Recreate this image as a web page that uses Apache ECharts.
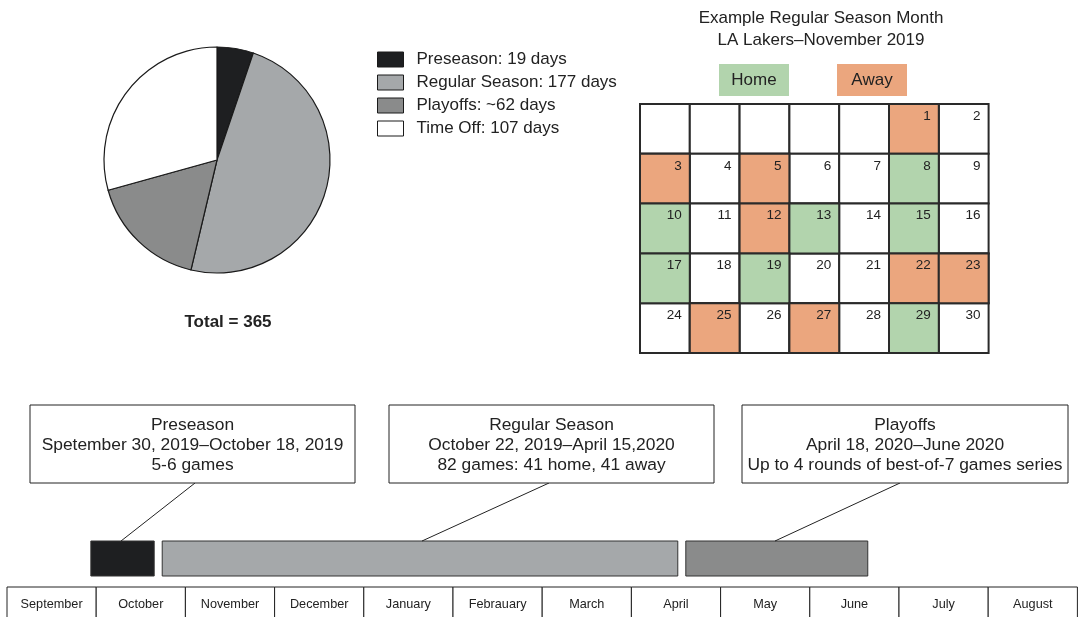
<!DOCTYPE html>
<html>
<head>
<meta charset="utf-8">
<script src="https://cdn.jsdelivr.net/npm/echarts@6/dist/echarts.min.js"></script>
<style>
  html, body { margin: 0; padding: 0; background: #fff; }
  #chart { width: 1080px; height: 617px; }
</style>
</head>
<body>
<div id="chart"></div>
<script>
// ---- Season breakdown (days) ----
const phaseNames = ['Preseason', 'Regular Season', 'Playoffs', 'Time Off'];
const phaseDays = [19, 177, 62, 107];
const phaseDayPrefix = ['', '', '~', ''];
const phaseColors = ['#1e1f21', '#a5a8aa', '#8a8b8b', '#ffffff'];

// ---- November 2019 Lakers schedule ----
const calendarRange = ['2019-10-27', '2019-11-30'];
const monthDays = 30;
const homeDays = [8, 10, 13, 15, 17, 19, 29];
const awayDays = [1, 3, 5, 12, 22, 23, 25, 27];

// ---- Season timeline (position in months from Sep 1) ----
const months = ['September', 'October', 'November', 'December', 'January', 'Febrauary',
  'March', 'April', 'May', 'June', 'July', 'August'];
const timelineStart = [0.94, 1.74, 7.61];
const timelineEnd = [1.65, 7.52, 9.65];
const calloutLines = [
  ['Preseason', 'Spetember 30, 2019\u2013October 18, 2019', '5-6 games'],
  ['Regular Season', 'October 22, 2019\u2013April 15,2020', '82 games: 41 home, 41 away'],
  ['Playoffs', 'April 18, 2020\u2013June 2020', 'Up to 4 rounds of best-of-7 games series']
];

const FONT = '"Liberation Sans", Arial, Helvetica, sans-serif';
const INK = '#222';
const HOME_COLOR = '#b2d4ad';
const AWAY_COLOR = '#eba67e';

// callout box placement (pixels) and leader anchors
const calloutBoxes = [
  { x: 30, y: 405, w: 325, h: 78, anchor: 195, barAnchor: 121 },
  { x: 389, y: 405, w: 325, h: 78, anchor: 549, barAnchor: 422 },
  { x: 742, y: 405, w: 326, h: 78, anchor: 900, barAnchor: 775 }
];

const pieData = phaseNames.map((n, i) => ({
  name: n, value: phaseDays[i], itemStyle: { color: phaseColors[i] }
}));
const totalDays = phaseDays.reduce((a, b) => a + b, 0);

// calendar cells
const calData = [];
for (let d = 1; d <= monthDays; d++) {
  const status = homeDays.includes(d) ? 'home' : (awayDays.includes(d) ? 'away' : '');
  calData.push(['2019-11-' + String(d).padStart(2, '0'), d, status]);
}

const CELL = 49.8;

const chart = echarts.init(document.getElementById('chart'), null, { renderer: 'canvas' });

chart.setOption({
  animation: false,
  textStyle: { fontFamily: FONT, color: INK },
  title: {
    text: 'Example Regular Season Month\nLA Lakers\u2013November 2019',
    left: 821, top: 7, textAlign: 'center', padding: 0,
    textStyle: { fontFamily: FONT, fontSize: 17, fontWeight: 'normal', color: INK, lineHeight: 22 }
  },
  legend: {
    orient: 'vertical', left: 377, top: 51, padding: 0, itemWidth: 26, itemHeight: 15, itemGap: 6,
    selectedMode: false, icon: 'rect',
    itemStyle: { borderColor: '#1a1a1a', borderWidth: 1 },
    textStyle: { fontFamily: FONT, fontSize: 17, color: INK, padding: [0, 0, 0, 8] },
    formatter: name => {
      const i = phaseNames.indexOf(name);
      return name + ': ' + phaseDayPrefix[i] + phaseDays[i] + ' days';
    },
    data: phaseNames
  },
  calendar: {
    orient: 'vertical', range: calendarRange, left: 640, top: 104,
    cellSize: [CELL, CELL],
    dayLabel: { show: false, firstDay: 0 }, monthLabel: { show: false }, yearLabel: { show: false },
    splitLine: { show: false },
    itemStyle: { color: '#fff', borderColor: '#2a2a2a', borderWidth: 2 }
  },
  grid: { left: 7, top: 400, width: 12 * 89.2, height: 217, show: false },
  xAxis: { type: 'value', min: 0, max: 12, show: false },
  yAxis: { type: 'value', min: 0, max: 1, show: false },
  graphic: [
    { type: 'text', x: 228, y: 322, style: { text: 'Total = ' + totalDays, font: 'bold 17px ' + FONT, fill: INK, align: 'center', verticalAlign: 'middle' } },
    { type: 'rect', shape: { x: 719, y: 64, width: 70, height: 32 }, style: { fill: HOME_COLOR } },
    { type: 'text', x: 754, y: 80, style: { text: 'Home', font: '17px ' + FONT, fill: INK, align: 'center', verticalAlign: 'middle' } },
    { type: 'rect', shape: { x: 837, y: 64, width: 70, height: 32 }, style: { fill: AWAY_COLOR } },
    { type: 'text', x: 872, y: 80, style: { text: 'Away', font: '17px ' + FONT, fill: INK, align: 'center', verticalAlign: 'middle' } }
  ],
  series: [
    {
      type: 'pie', center: [217, 160], radius: 113, startAngle: 90, clockwise: true,
      label: { show: false }, labelLine: { show: false }, silent: true,
      itemStyle: { borderColor: '#1a1a1a', borderWidth: 1.2 },
      data: pieData
    },
    {
      type: 'custom', coordinateSystem: 'calendar', silent: true,
      data: calData,
      renderItem: (params, api) => {
        const c = api.coord([api.value(0)]);
        const status = calData[params.dataIndex][2];
        const children = [];
        if (status) {
          children.push({
            type: 'rect',
            shape: { x: c[0] - CELL / 2, y: c[1] - CELL / 2, width: CELL, height: CELL },
            style: { fill: status === 'home' ? HOME_COLOR : AWAY_COLOR, stroke: '#2a2a2a', lineWidth: 2 }
          });
        }
        children.push({
          type: 'text', x: c[0] + CELL / 2 - 8, y: c[1] - CELL / 2 + 12,
          style: { text: String(api.value(1)), font: '13.5px ' + FONT, fill: INK, align: 'right', verticalAlign: 'middle' }
        });
        return { type: 'group', children };
      }
    },
    {
      // month boxes along the bottom
      type: 'custom', coordinateSystem: 'cartesian2d', silent: true,
      data: months.map((m, i) => [i]),
      renderItem: (params, api) => {
        const i = api.value(0);
        const x0 = api.coord([i, 0])[0];
        const x1 = api.coord([i + 1, 0])[0];
        return {
          type: 'group', children: [
            { type: 'rect', shape: { x: x0, y: 587, width: x1 - x0, height: 40 }, style: { fill: '#fff', stroke: '#222', lineWidth: 1 } },
            { type: 'text', x: (x0 + x1) / 2, y: 604, style: { text: months[i], font: '12.7px ' + FONT, fill: INK, align: 'center', verticalAlign: 'middle' } }
          ]
        };
      }
    },
    {
      // season phase bars with callouts
      type: 'custom', coordinateSystem: 'cartesian2d', silent: true,
      data: timelineStart.map((s, i) => [s, timelineEnd[i]]),
      renderItem: (params, api) => {
        const i = params.dataIndex;
        const x0 = api.coord([api.value(0), 0])[0];
        const x1 = api.coord([api.value(1), 0])[0];
        const b = calloutBoxes[i];
        const lines = calloutLines[i];
        const children = [
          { type: 'rect', shape: { x: x0, y: 541, width: x1 - x0, height: 35 }, style: { fill: phaseColors[i], stroke: '#333', lineWidth: 1 } },
          { type: 'line', shape: { x1: b.anchor, y1: b.y + b.h, x2: b.barAnchor, y2: 541 }, style: { stroke: '#222', lineWidth: 1 } },
          { type: 'rect', shape: { x: b.x, y: b.y, width: b.w, height: b.h }, style: { fill: '#fff', stroke: '#222', lineWidth: 1 } }
        ];
        lines.forEach((t, k) => {
          children.push({
            type: 'text', x: b.x + b.w / 2, y: b.y + 20 + k * 20,
            style: { text: t, font: '17.4px ' + FONT, fill: INK, align: 'center', verticalAlign: 'middle' }
          });
        });
        return { type: 'group', children };
      }
    }
  ]
});
</script>
</body>
</html>
